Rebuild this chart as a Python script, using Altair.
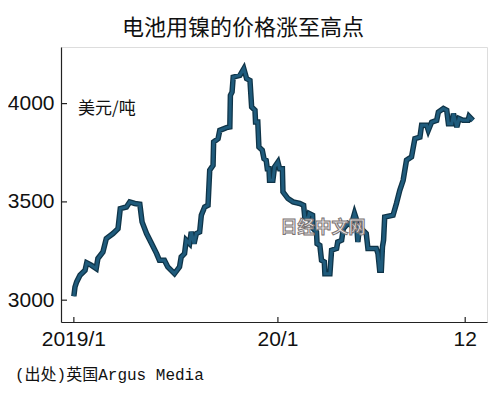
import altair as alt
import pandas as pd

# ---- data ----
dates = [
    "2019-01-01", "2019-01-03", "2019-01-06", "2019-01-12", "2019-01-21", "2019-01-24",
    "2019-02-01", "2019-02-10", "2019-02-13", "2019-02-22", "2019-02-28", "2019-03-12",
    "2019-03-21", "2019-03-25", "2019-04-05", "2019-04-11", "2019-04-20", "2019-04-29",
    "2019-05-03", "2019-05-11", "2019-05-20", "2019-05-29", "2019-06-03", "2019-06-12",
    "2019-06-18", "2019-06-30", "2019-07-09", "2019-07-12", "2019-07-18", "2019-07-21",
    "2019-07-27", "2019-07-30", "2019-08-04", "2019-08-08", "2019-08-14", "2019-08-17",
    "2019-08-23", "2019-08-29", "2019-09-01", "2019-09-07", "2019-09-08", "2019-09-16",
    "2019-09-19", "2019-10-01", "2019-10-07", "2019-10-08", "2019-10-11", "2019-10-13",
    "2019-10-25", "2019-11-01", "2019-11-06", "2019-11-12", "2019-11-15", "2019-11-21",
    "2019-11-22", "2019-11-26", "2019-11-28", "2019-12-04", "2019-12-07", "2019-12-11",
    "2019-12-13", "2019-12-16", "2019-12-17", "2019-12-23", "2019-12-26", "2020-01-01",
    "2020-01-04", "2020-01-09", "2020-01-10", "2020-01-19", "2020-01-28", "2020-02-09",
    "2020-02-16", "2020-02-18", "2020-02-24", "2020-02-26", "2020-03-03", "2020-03-04",
    "2020-03-10", "2020-03-11", "2020-03-16", "2020-03-19", "2020-03-24", "2020-03-25",
    "2020-04-03", "2020-04-06", "2020-04-15", "2020-04-17", "2020-04-24", "2020-04-27",
    "2020-05-05", "2020-05-11", "2020-05-17", "2020-05-20", "2020-05-23", "2020-05-26",
    "2020-06-01", "2020-06-07", "2020-06-10", "2020-06-25", "2020-06-28", "2020-07-01",
    "2020-07-04", "2020-07-06", "2020-07-08", "2020-07-10", "2020-07-25", "2020-07-31",
    "2020-08-06", "2020-08-12", "2020-08-18", "2020-08-27", "2020-09-02", "2020-09-11",
    "2020-09-14", "2020-09-23", "2020-09-26", "2020-10-02", "2020-10-11", "2020-10-14",
    "2020-10-23", "2020-10-29", "2020-11-01", "2020-11-07", "2020-11-10", "2020-11-13",
    "2020-11-16", "2020-11-20", "2020-11-27", "2020-12-06", "2020-12-08", "2020-12-15",
]
prices = [
    3020, 3067, 3093, 3127, 3152, 3190,
    3178, 3161, 3212, 3245, 3313, 3339,
    3364, 3466, 3474, 3500, 3492, 3488,
    3398, 3339, 3288, 3237, 3203, 3203,
    3169, 3135, 3169, 3220, 3237, 3305,
    3288, 3347, 3288, 3339, 3347, 3432,
    3474, 3483, 3661, 3686, 3805, 3822,
    3864, 3878, 3881, 4042, 4059, 4135,
    4144, 4178, 4127, 4118, 3983, 3966,
    3906, 3906, 3779, 3763, 3720, 3712,
    3669, 3669, 3610, 3610, 3678, 3703,
    3669, 3669, 3551, 3517, 3500, 3492,
    3483, 3423, 3415, 3441, 3432, 3364,
    3347, 3288, 3279, 3203, 3195, 3135,
    3135, 3254, 3263, 3296, 3305, 3364,
    3390, 3381, 3441, 3415, 3296, 3373,
    3356, 3339, 3263, 3263, 3237, 3152,
    3152, 3271, 3305, 3423, 3432, 3492,
    3559, 3610, 3712, 3729, 3822, 3830,
    3890, 3890, 3864, 3906, 3915, 3957,
    3975, 3966, 3898, 3898, 3949, 3915,
    3881, 3924, 3915, 3915, 3935, 3915,
]
y_ticks = [3000, 3500, 4000]
x_tick_dates = ["2019-01-01", "2020-01-01", "2020-12-01"]
x_tick_labels = ["2019/1", "20/1", "12"]
title_text = "电池用镍的价格涨至高点"
unit_text = "美元/吨"
source_text = "(出处)英国Argus Media"
watermark_text = "日经中文网"

W, H = 426, 275
NUM_FONT = "Liberation Sans Narrow, Liberation Sans, sans-serif"
CJK_FONT = "Noto Sans CJK SC"

df = pd.DataFrame({"date": pd.to_datetime(dates), "price": prices})
xt = pd.DataFrame({"date": pd.to_datetime(x_tick_dates), "label": x_tick_labels})
yt = pd.DataFrame({"v": y_ticks})

x_scale = alt.Scale(domain=[alt.DateTime(year=2018, month=12, date=9),
                            alt.DateTime(year=2021, month=1, date=9)])
y_scale = alt.Scale(domain=[2889, 4288], nice=False, zero=False)

base = alt.Chart(df).encode(
    x=alt.X("date:T", scale=x_scale,
            axis=alt.Axis(labels=False, ticks=False, grid=False, title=None,
                          domainColor="#222", domainWidth=1.2)),
    y=alt.Y("price:Q", scale=y_scale,
            axis=alt.Axis(values=y_ticks, format="d", ticks=False, grid=False, title=None,
                          labelFont=NUM_FONT, labelFontSize=21, labelColor="#111",
                          labelPadding=7, domainColor="#222", domainWidth=1.2)),
)
outer = base.mark_line(color="#0f3448", strokeWidth=5.5)
inner = base.mark_line(color="#1f5b7c", strokeWidth=3)

xticks = alt.Chart(xt).mark_rule(color="#222", strokeWidth=1.2).encode(
    x=alt.X("date:T", scale=x_scale),
    y=alt.value(H - 5), y2=alt.value(H))
xlabels = alt.Chart(xt).mark_text(font=NUM_FONT, fontSize=21, color="#111",
                                  baseline="middle", align="center").encode(
    x=alt.X("date:T", scale=x_scale), y=alt.value(H + 18), text="label:N")
yticks = alt.Chart(yt).mark_rule(color="#222", strokeWidth=1.2).encode(
    y=alt.Y("v:Q", scale=y_scale), x=alt.value(0), x2=alt.value(6))

def label(txt, x, y, **kw):
    return alt.Chart(pd.DataFrame({"t": [txt]})).mark_text(**kw).encode(
        text="t:N", x=alt.value(x), y=alt.value(y))

unit = label(unit_text, 17, 62, font=CJK_FONT, fontSize=17, color="#111",
             align="left", baseline="middle")
source = label(source_text, -46, 328, font="Liberation Mono, " + CJK_FONT,
               fontSize=16, color="#111", align="left", baseline="middle")
watermark = label(watermark_text, 262, 181, font=CJK_FONT, fontSize=17,
                  fontWeight="bold", color="#eeeaea", stroke="#7a7474",
                  strokeWidth=1, align="center", baseline="middle")

chart = alt.layer(outer, inner, xticks, yticks, xlabels, watermark, unit, source).properties(
    width=W, height=H,
    title=alt.TitleParams(text=title_text, font=CJK_FONT, fontSize=22,
                          fontWeight="normal", color="#111", anchor="middle",
                          dx=-31, offset=7),
    autosize=alt.AutoSizeParams(type="none"),
    padding={"left": 53, "top": 39, "right": 5, "bottom": 72},
).configure_view(stroke=None).configure(background="white")

chart.save("out.html", embed_options={"renderer": "svg", "actions": False})
